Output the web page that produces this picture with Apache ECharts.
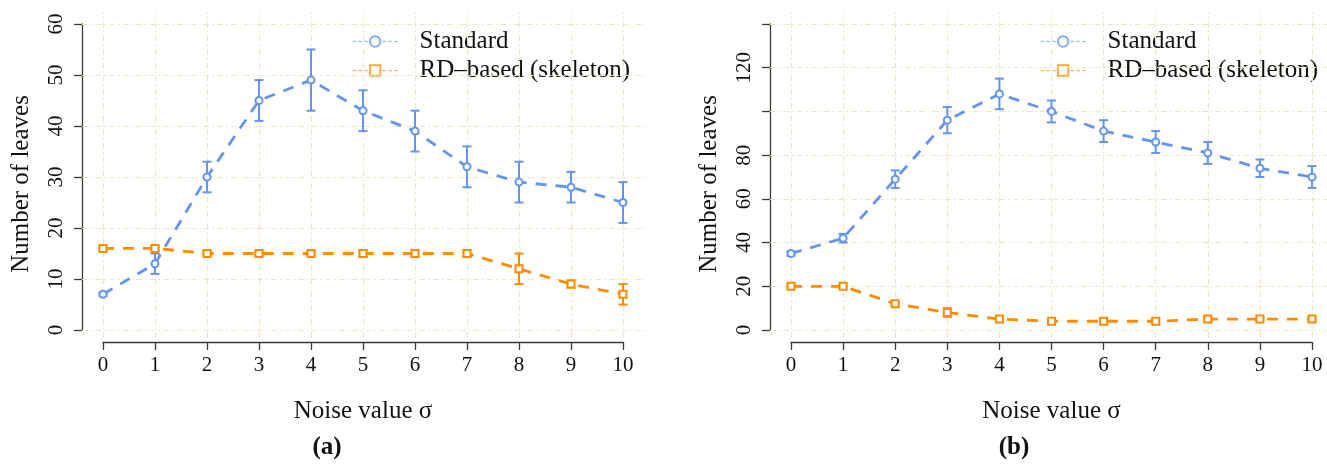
<!DOCTYPE html>
<html><head><meta charset="utf-8">
<script src="https://cdn.jsdelivr.net/npm/echarts@6/dist/echarts.min.js"></script>
<style>html,body{margin:0;padding:0;background:#fff}#c{width:1327px;height:465px}</style>
</head><body><div id="c"></div><script>
// ---- data ----
const sigma = [0,1,2,3,4,5,6,7,8,9,10];
const seriesNames = ['Standard', 'RD\u2013based (skeleton)'];
// panel (a)
const stdA    = [7,13,30,45,49,43,39,32,29,28,25];
const stdAErr = [0.3,2,3,4,6,4,4,4,4,3,4];
const rdA     = [16,16,15,15,15,15,15,15,12,9,7];
const rdAErr  = [0.3,0.3,0.4,0.4,0.4,0.7,0.7,0.7,3,0.7,2];
// panel (b)
const stdB    = [35,42,69,96,108,100,91,86,81,74,70];
const stdBErr = [1,2,4,6,7,5,5,5,5,4,5];
const rdB     = [20,20,12,8,5,4,4,4,5,5,5];
const rdBErr  = [0.8,0.8,0.8,2,0.8,0.8,0.8,0.8,0.8,0.8,0.8];
// ticks
const yTicksA = [0,10,20,30,40,50,60];
const yTicksB = [0,20,40,60,80,100,120,140];
const hiddenLabelsB = [100,140];
const panelLabels = ['(a)','(b)'];
const xTitle = 'Noise value \u03c3';
const yTitle = 'Number of leaves';

// ---- style ----
const FONT = 'Liberation Serif';
const BLUE = '#6495ED', ORANGE = '#FF8C00';
const GRIDC = '#eee5c6';
const AXC = '#3a3a3a';

function pairs(ys){ return sigma.map((x,i)=>[x, ys[i]]); }
function errs(ys, es){ return sigma.map((x,i)=>[x, ys[i]-es[i], ys[i]+es[i]]); }
function errRender(color){
  return function(params, api){
    const x = api.value(0), lo = api.value(1), hi = api.value(2);
    const p1 = api.coord([x, hi]), p2 = api.coord([x, lo]);
    const hw = 4.5;
    const style = {stroke: color, lineWidth: 2};
    return {type:'group', children:[
      {type:'line', shape:{x1:p1[0],y1:p1[1],x2:p2[0],y2:p2[1]}, style},
      {type:'line', shape:{x1:p1[0]-hw,y1:p1[1],x2:p1[0]+hw,y2:p1[1]}, style},
      {type:'line', shape:{x1:p2[0]-hw,y1:p2[1],x2:p2[0]+hw,y2:p2[1]}, style}
    ]};
  };
}
function gridLines(xs, ys){
  return {
    symbol:['none','none'], silent:true, label:{show:false}, animation:false,
    lineStyle:{color:GRIDC, width:1.2, type:[6,3,1.5,3]},
    data: xs.map(v=>({xAxis:v})).concat(ys.map(v=>({yAxis:v})))
  };
}

// geometry of panels (pixel layout)
const P = [
  {inL:103, inR:623, outL:82, outR:645, ymax:60, yTicks:yTicksA, legL:345, title:327},
  {inL:791, inR:1312, outL:770, outR:1327, ymax:140, yTicks:yTicksB, legL:1033, title:1014}
];
const inT = 24, inB = 330, outT = 12, outB = 338;

const grids = [], xAxes = [], yAxes = [];
P.forEach((p, k)=>{
  const pxX = (p.inR - p.inL)/10, pxY = (inB - inT)/p.ymax;
  // outer (grid-line) coordinate system
  grids.push({left:p.outL, width:p.outR-p.outL, top:outT, height:outB-outT});
  xAxes.push({type:'value', gridIndex:2*k, show:false,
    min:-(p.inL-p.outL)/pxX, max:10+(p.outR-p.inR)/pxX});
  yAxes.push({type:'value', gridIndex:2*k, show:false,
    min:-(outB-inB)/pxY, max:p.ymax+(inT-outT)/pxY});
  // inner (data + axes)
  grids.push({left:p.inL, width:p.inR-p.inL, top:inT, height:inB-inT});
  xAxes.push({type:'value', gridIndex:2*k+1, min:0, max:10, interval:1, offset:12,
    axisLine:{show:true, onZero:false, lineStyle:{color:AXC, width:1.3}},
    axisTick:{show:true, length:8, lineStyle:{color:AXC, width:1.3}},
    splitLine:{show:false},
    axisLabel:{fontFamily:FONT, fontSize:21, color:'#111', margin:13},
    name:xTitle, nameLocation:'middle', nameGap:57,
    nameTextStyle:{fontFamily:FONT, fontSize:25, color:'#111'}
  });
  yAxes.push({type:'value', gridIndex:2*k+1, min:0, max:p.ymax,
    interval:p.yTicks[1]-p.yTicks[0], offset:21,
    axisLine:{show:true, onZero:false, lineStyle:{color:AXC, width:1.3}},
    axisTick:{show:true, length:8, lineStyle:{color:AXC, width:1.3}},
    splitLine:{show:false},
    axisLabel:{fontFamily:FONT, fontSize:21, color:'#111', rotate:90, margin:15,
      formatter: v => (k===1 && hiddenLabelsB.includes(v)) ? '' : String(v)},
    name:yTitle, nameLocation:'middle', nameRotate:90, nameGap:48,
    nameTextStyle:{fontFamily:FONT, fontSize:25, color:'#111', padding:[0,14,0,0]}
  });
});

function panelSeries(k, std, stdE, rd, rdE){
  const xi = 2*k+1;
  return [
    {type:'line', name:seriesNames[0], xAxisIndex:xi, yAxisIndex:xi, z:7,
     data: pairs(std), symbol:'emptyCircle', symbolSize:7,
     lineStyle:{color:BLUE, width:2.8, type:[11,9]},
     itemStyle:{color:BLUE, borderColor:BLUE, borderWidth:3}},
    {type:'line', name:seriesNames[1], xAxisIndex:xi, yAxisIndex:xi, z:7,
     data: pairs(rd), symbol:'emptyRect', symbolSize:7,
     lineStyle:{color:ORANGE, width:2.8, type:[11,9]},
     itemStyle:{color:ORANGE, borderColor:ORANGE, borderWidth:3}},
    {type:'line', name:'grid'+k, xAxisIndex:2*k, yAxisIndex:2*k, data:[], z:1,
     markLine: gridLines(sigma, P[k].yTicks)},
    {type:'custom', name:'err-std'+k, xAxisIndex:xi, yAxisIndex:xi, z:6,
     renderItem: errRender(BLUE), data: errs(std, stdE), encode:{x:0, y:[1,2]}},
    {type:'custom', name:'err-rd'+k, xAxisIndex:xi, yAxisIndex:xi, z:6,
     renderItem: errRender(ORANGE), data: errs(rd, rdE), encode:{x:0, y:[1,2]}}
  ];
}

const legends = P.map(p=>({
  orient:'vertical', left:p.legL, top:17, padding:[12,12,16,7],
  backgroundColor:'#fff', itemWidth:45, itemHeight:13, itemGap:4, z:4,
  data: seriesNames.slice(),
  selectedMode:false,
  textStyle:{fontFamily:FONT, fontSize:25, color:'#111', lineHeight:25, padding:[0,0,0,17]},
  lineStyle:{width:1.2, type:[3,3], opacity:0.75},
  itemStyle:{borderWidth:1.5, opacity:0.75}
}));

const titles = P.map((p,k)=>({
  text: panelLabels[k], left:p.title, top:435, textAlign:'center', padding:0,
  textStyle:{fontFamily:FONT, fontSize:25, fontWeight:'bold', color:'#111'}
}));

const chart = echarts.init(document.getElementById('c'), null, {renderer:'canvas'});
chart.setOption({
  animation:false,
  backgroundColor:'#fff',
  title: titles,
  legend: legends,
  grid: grids,
  xAxis: xAxes,
  yAxis: yAxes,
  series: panelSeries(0, stdA, stdAErr, rdA, rdAErr).concat(panelSeries(1, stdB, stdBErr, rdB, rdBErr))
});
</script></body></html>
